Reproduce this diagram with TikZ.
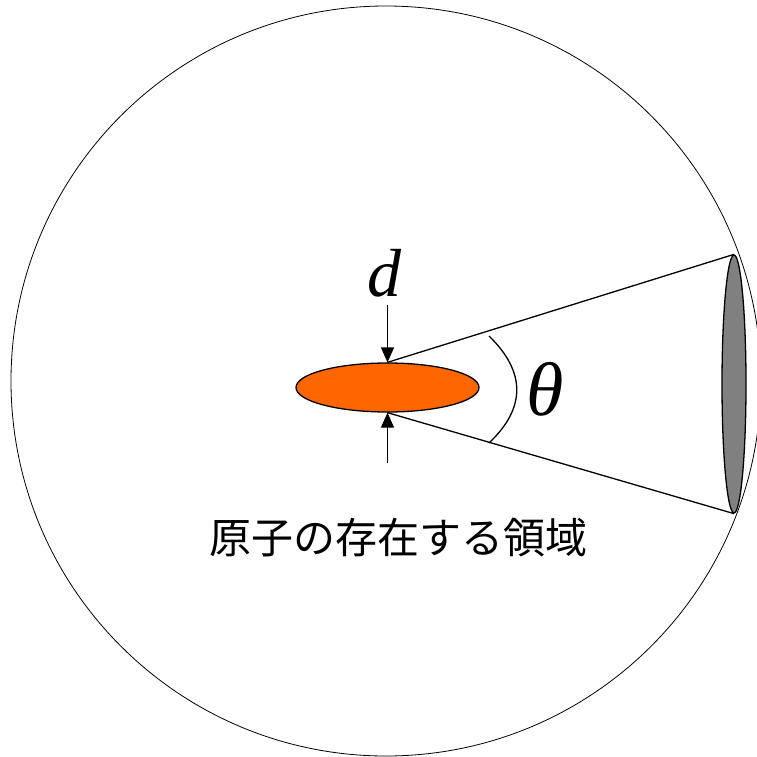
\documentclass[tikz,border=0pt]{standalone}
\usepackage{fontspec}
\newfontfamily\jpfont{Noto Sans CJK JP}
\newfontfamily\tmsfont{Liberation Serif}
\usetikzlibrary{shapes.geometric,arrows.meta}
\definecolor{atomorange}{HTML}{FF6600}
\definecolor{discgray}{HTML}{808080}
\begin{document}
\begin{tikzpicture}[x=1pt,y=-1pt,
  thinline/.style={line width=0.8pt},
  coneline/.style={line width=1.3pt},
  dimarrow/.style={line width=1.3pt,-{Triangle[length=15pt,width=13pt]}},
  lbl/.style={inner sep=0pt}]
\useasboundingbox (0,0) rectangle (757,757);
\clip (0,0) rectangle (757,757);
\node[circle, draw, thinline, minimum size=750pt, inner sep=0pt] (sphere) at (386,381) {};
\node[ellipse, draw, coneline, fill=atomorange, minimum width=183pt, minimum height=49pt, inner sep=0pt] (atom) at (387.5,387.5) {};
\node[ellipse, draw, coneline, fill=discgray, minimum width=24pt, minimum height=258pt, inner sep=0pt] (disc) at (734,384) {};
\draw[coneline] (atom.north) -- (disc.north);
\draw[coneline] (atom.south) -- (disc.south);
\coordinate (dtop) at (387.5,305);
\coordinate (dbot) at (387.5,463);
\draw[dimarrow] (dtop) -- (atom.north);
\draw[dimarrow] (dbot) -- (atom.south);
\coordinate (arcA) at (489,336);
\coordinate (arcB) at (489,443);
\draw[coneline] (arcA) .. controls (526,372) and (526,408) .. (arcB);
\node[lbl, font=\tmsfont\itshape\fontsize{68}{72}\selectfont] (dlabel) at (384,273) {d};
\node[lbl, font=\tmsfont\itshape\fontsize{76}{80}\selectfont] (thlabel) at (545,389) {θ};
\node[lbl, font=\jpfont\fontsize{42}{48}\selectfont] (caption) at (398,538) {原子の存在する領域};
\end{tikzpicture}
\end{document}
